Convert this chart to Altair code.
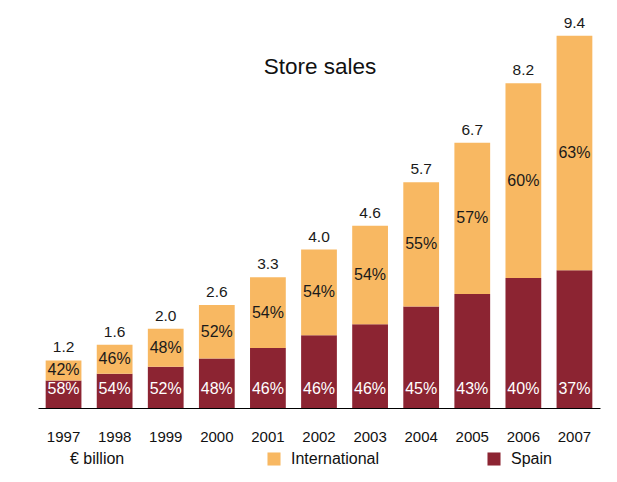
import altair as alt
import pandas as pd

years = ["1997", "1998", "1999", "2000", "2001", "2002", "2003", "2004", "2005", "2006", "2007"]
totals = [1.2, 1.6, 2.0, 2.6, 3.3, 4.0, 4.6, 5.7, 6.7, 8.2, 9.4]
spain_pct = [58, 54, 52, 48, 46, 46, 46, 45, 43, 40, 37]
intl_pct = [42, 46, 48, 52, 54, 54, 54, 55, 57, 60, 63]

segments = ["International", "Spain"]
colors = ["#F8B862", "#8C2432"]

rows = []
for y, t, sp, ip in zip(years, totals, spain_pct, intl_pct):
    sv = t * sp / 100.0
    iv = t * ip / 100.0
    rows.append({"year": y, "segment": "Spain", "value": sv, "order": 0,
                 "pct": f"{sp}%", "total": t, "mid": sv / 2, "base": 0})
    rows.append({"year": y, "segment": "International", "value": iv, "order": 1,
                 "pct": f"{ip}%", "total": t, "mid": sv + iv / 2, "base": 0})
df = pd.DataFrame(rows)
tot_df = pd.DataFrame({"year": years, "total": totals,
                       "label": [f"{t:.1f}" for t in totals]})

FONT = "Liberation Sans"
xenc = alt.X("year:N", sort=years,
             scale=alt.Scale(paddingInner=0.3, paddingOuter=0.15),
             axis=alt.Axis(title=None, ticks=False, labelAngle=0, labelFontSize=15,
                           labelColor="#111111", labelFont=FONT, labelPadding=21,
                           domainColor="#000000", domainWidth=1))
yscale = alt.Scale(domain=[0, 10], nice=False)

bars = alt.Chart(df).mark_bar().encode(
    x=xenc,
    y=alt.Y("value:Q", stack="zero", scale=yscale, axis=None),
    order=alt.Order("order:Q"),
    color=alt.Color("segment:N", sort=segments,
                    scale=alt.Scale(domain=segments, range=colors),
                    legend=alt.Legend(
                        title="€ billion", orient="none", legendX=32, legendY=439,
                        direction="horizontal", titleOrient="left",
                        titlePadding=141, titleFontSize=16, titleFontWeight="normal",
                        titleFont=FONT, titleColor="#111111", titleBaseline="middle",
                        labelFontSize=16, labelFont=FONT, labelColor="#111111",
                        symbolType="square", symbolSize=170, symbolStrokeWidth=0,
                        columnPadding=106, labelOffset=9)),
)

intl_lbl = alt.Chart(df[df.segment == "International"]).mark_text(
    fontSize=16, font=FONT, color="#1a1a1a", baseline="middle").encode(
    x=alt.X("year:N", sort=years), y=alt.Y("mid:Q", scale=yscale), text="pct:N")

spain_lbl = alt.Chart(df[df.segment == "Spain"]).mark_text(
    fontSize=16, font=FONT, color="#ffffff", baseline="middle",
    dy=-19).encode(
    x=alt.X("year:N", sort=years), y=alt.Y("base:Q", scale=yscale), text="pct:N")

tot_lbl = alt.Chart(tot_df).mark_text(
    fontSize=15.5, font=FONT, color="#1a1a1a", baseline="bottom", dy=-5).encode(
    x=alt.X("year:N", sort=years), y=alt.Y("total:Q", scale=yscale), text="label:N")

title = alt.Chart(pd.DataFrame({"t": ["Store sales"]})).mark_text(
    fontSize=22.5, font=FONT, color="#111111", baseline="middle", align="center").encode(
    x=alt.value(282), y=alt.value(55), text="t:N")

chart = alt.layer(bars, intl_lbl, spain_lbl, tot_lbl, title).properties(
    width=562, height=396,
    padding={"left": 30, "top": 4, "right": 5, "bottom": 0},
).configure_view(stroke=None).configure_scale(bandPaddingInner=0.3)

chart.save("out.html", embed_options={"renderer": "svg", "actions": False})
